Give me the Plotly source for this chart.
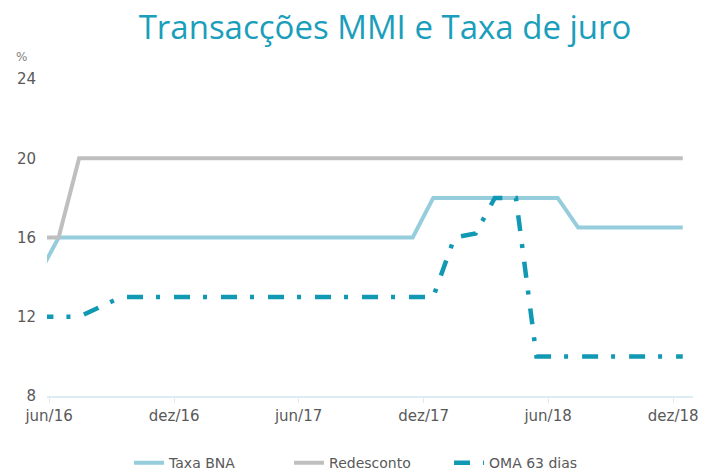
import plotly.graph_objects as go

months = [f"{y}-{m:02d}-15" for y, m in
          [(2016, m) for m in range(5, 13)] + [(2017, m) for m in range(1, 13)] + [(2018, m) for m in range(1, 13)]]

taxa_bna = [14] + [16] * 18 + [18] * 7 + [16.5] * 6
redesconto = [16, 16] + [20] * 30
oma_63 = [12, 12, 12, 12.5] + [13] * 16 + [16, 16.2, 18, 18] + [10] * 8

tick_vals = ["2016-06-01", "2016-12-01", "2017-06-01", "2017-12-01", "2018-06-01", "2018-12-01"]
tick_text = ["jun/16", "dez/16", "jun/17", "dez/17", "jun/18", "dez/18"]
y_ticks = [8, 12, 16, 20, 24]

FONT = "DejaVu Sans"
fig = go.Figure()
fig.add_trace(go.Scatter(x=months, y=taxa_bna, mode="lines", name="Taxa BNA",
                         line=dict(color="#96CDDD", width=4)))
fig.add_trace(go.Scatter(x=months, y=redesconto, mode="lines", name="Redesconto",
                         line=dict(color="#BFBFBF", width=4)))
fig.add_trace(go.Scatter(x=months, y=oma_63, mode="lines", name="OMA 63 dias",
                         line=dict(color="#1198B2", width=4.5, dash="16px,13px,4px,14px")))

fig.update_layout(
    width=713, height=474,
    margin=dict(l=47, r=20, t=79, b=78, autoexpand=False),
    paper_bgcolor="white", plot_bgcolor="white",
    font=dict(family=FONT, color="#595959", size=14),
    title=dict(text="Transacções MMI e Taxa de juro", x=0.54, xanchor="center",
               y=0.942, yanchor="middle",
               font=dict(family="Open Sans", size=33, color="#1A9EBB", weight=400)),
    showlegend=True,
    legend=dict(orientation="h", x=0.127, xanchor="left", y=-0.212, yanchor="middle",
                font=dict(family=FONT, size=14, color="#595959"),
                entrywidth=115, entrywidthmode="pixels"),
    xaxis=dict(type="date", range=["2016-05-29", "2018-12-30"], tickvals=tick_vals,
               ticktext=tick_text, showgrid=False, showline=True, linecolor="#DCEBF4",
               linewidth=2, ticks="outside", tickcolor="#DCEBF4", ticklen=5, tickwidth=1,
               tickfont=dict(size=15, color="#595959"), zeroline=False),
    yaxis=dict(range=[8, 24], tickvals=y_ticks, showgrid=False, showline=False,
               zeroline=False, ticks="", ticklabelstandoff=10,
               tickfont=dict(size=15, color="#595959")),
    annotations=[dict(text="%", xref="paper", yref="paper", x=-0.040, y=1.07,
                      xanchor="center", yanchor="middle", showarrow=False,
                      font=dict(size=12, color="#7F7F7F"))],
)

fig.write_html("out.html", config={"displayModeBar": False},
               post_script="document.body.style.margin='0';")
